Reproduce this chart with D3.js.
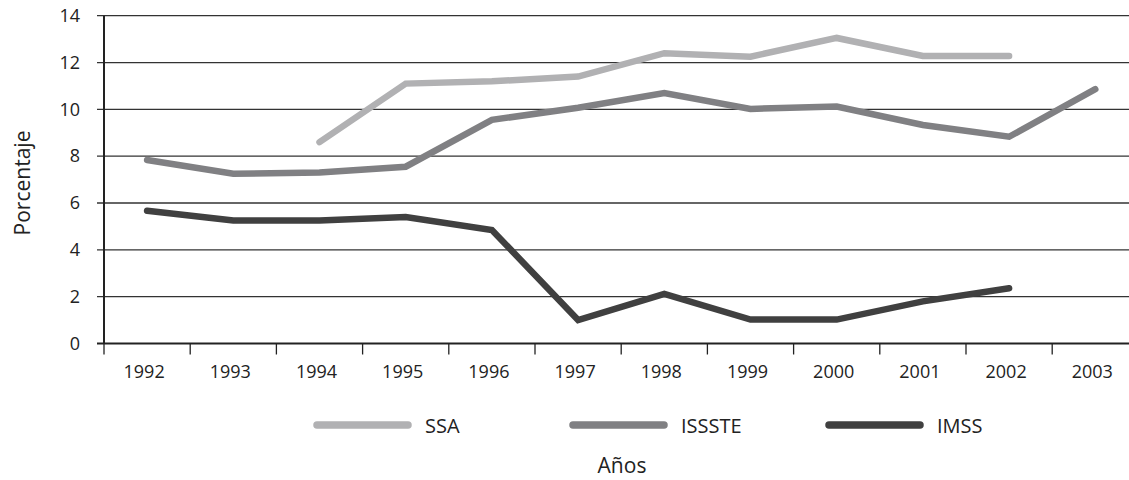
<!DOCTYPE html>
<head>
  <meta charset="utf-8">
  <script src="https://d3js.org/d3.v7.min.js"></script>
  <style>
    body { margin: 0; background: #fff; }
    text { font-family: "Open Sans", sans-serif; fill: #222; }
  </style>
</head>
<body>
  <svg width="1129" height="480"></svg>
  <script>
    var years = ["1992", "1993", "1994", "1995", "1996", "1997", "1998", "1999", "2000", "2001", "2002", "2003"];
    var ssa    = [null, null, 8.6, 11.1, 11.2, 11.4, 12.4, 12.25, 13.05, 12.28, 12.28, null];
    var issste = [7.84, 7.25, 7.3, 7.55, 9.55, 10.07, 10.7, 10.02, 10.12, 9.33, 8.83, 10.86];
    var imss   = [5.67, 5.25, 5.25, 5.4, 4.85, 1.0, 2.12, 1.02, 1.02, 1.8, 2.36, null];
    var yTicks = [0, 2, 4, 6, 8, 10, 12, 14];

    var series = [
      { name: "SSA", values: ssa, color: "#b1b1b3" },
      { name: "ISSSTE", values: issste, color: "#808083" },
      { name: "IMSS", values: imss, color: "#404040" }
    ];

    var svg = d3.select("svg");
    var plotLeft = 104, plotTop = 15.7, plotBottom = 343.5;
    var bandW = 86.2;

    var x = d3.scaleBand().domain(years).range([plotLeft, plotLeft + bandW * years.length]).padding(0);
    var y = d3.scaleLinear().domain([0, 14]).range([plotBottom, plotTop]);

    // horizontal grid lines
    svg.append("g")
      .selectAll("line")
      .data(yTicks.filter(function (d) { return d > 0; }))
      .enter().append("line")
      .attr("x1", plotLeft - 7).attr("x2", 1129)
      .attr("y1", function (d) { return y(d); })
      .attr("y2", function (d) { return y(d); })
      .attr("stroke", "#333").attr("stroke-width", 1.3);

    // y tick labels
    svg.append("g")
      .selectAll("text")
      .data(yTicks)
      .enter().append("text")
      .attr("x", 80)
      .attr("y", function (d) { return y(d); })
      .attr("dy", "0.35em")
      .attr("text-anchor", "end")
      .style("font-size", "18px")
      .text(function (d) { return d; });

    // y axis line
    svg.append("line")
      .attr("x1", plotLeft).attr("x2", plotLeft)
      .attr("y1", y(14)).attr("y2", y(0))
      .attr("stroke", "#222").attr("stroke-width", 2);

    // x axis
    svg.append("line")
      .attr("x1", plotLeft - 7).attr("x2", 1129)
      .attr("y1", y(0)).attr("y2", y(0))
      .attr("stroke", "#222").attr("stroke-width", 2.2);

    var xTickPos = years.map(function (d) { return x(d); });
    svg.append("g")
      .selectAll("line")
      .data(xTickPos)
      .enter().append("line")
      .attr("x1", function (d) { return d; })
      .attr("x2", function (d) { return d; })
      .attr("y1", y(0)).attr("y2", y(0) + 11)
      .attr("stroke", "#222").attr("stroke-width", 1.3);

    svg.append("g")
      .selectAll("text")
      .data(years)
      .enter().append("text")
      .attr("x", function (d) { return x(d) + x.bandwidth() / 2 - 3; })
      .attr("y", 372)
      .attr("dy", "0.35em")
      .attr("text-anchor", "middle")
      .style("font-size", "18px")
      .text(function (d) { return d; });

    // lines
    var line = d3.line()
      .defined(function (d) { return d.v != null; })
      .x(function (d) { return x(d.year) + x.bandwidth() / 2; })
      .y(function (d) { return y(d.v); });

    series.forEach(function (s) {
      var pts = years.map(function (yr, i) { return { year: yr, v: s.values[i] }; });
      svg.append("path")
        .datum(pts)
        .attr("fill", "none")
        .attr("stroke", s.color)
        .attr("stroke-width", 6.5)
        .attr("stroke-linecap", "round")
        .attr("stroke-linejoin", "miter")
        .attr("d", line);
    });

    // legend
    var legend = svg.append("g");
    series.forEach(function (s, i) {
      var lx = 317 + i * 256;
      legend.append("line")
        .attr("x1", lx).attr("x2", lx + 91)
        .attr("y1", 425).attr("y2", 425)
        .attr("stroke", s.color)
        .attr("stroke-width", 7.5)
        .attr("stroke-linecap", "round");
      legend.append("text")
        .attr("x", lx + 108)
        .attr("y", 426)
        .attr("dy", "0.35em")
        .style("font-size", "20px")
        .text(s.name);
    });

    // axis titles
    svg.append("text")
      .attr("x", 622).attr("y", 466)
      .attr("dy", "0.35em")
      .attr("text-anchor", "middle")
      .style("font-size", "21px")
      .text("Años");

    svg.append("text")
      .attr("transform", "translate(23,183) rotate(-90)")
      .attr("dy", "0.35em")
      .attr("text-anchor", "middle")
      .style("font-size", "21px")
      .text("Porcentaje");
  </script>
</body>
